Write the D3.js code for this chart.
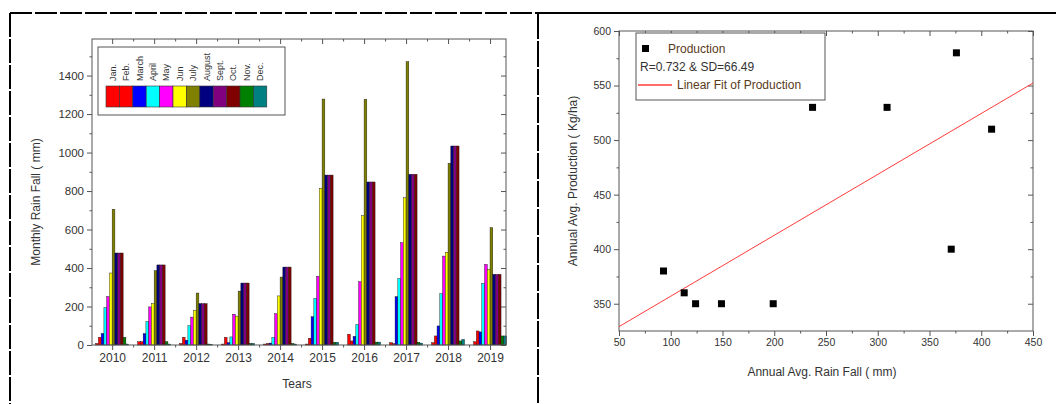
<!DOCTYPE html>
<html>
<head>
<meta charset="utf-8">
<script src="https://cdn.jsdelivr.net/npm/d3@7"></script>
<style>
  body { margin: 0; background: #fff; }
  svg { display: block; font-family: "Liberation Sans", Arial, sans-serif; }
</style>
</head>
<body>
<svg id="chart" width="1056" height="404"></svg>
<script>
// datos: lluvia mensual por año (mm)
const years = [2010, 2011, 2012, 2013, 2014, 2015, 2016, 2017, 2018, 2019];
const months = ['Jan.', 'Feb.', 'March', 'April', 'May', 'Jun', 'July', 'August', 'Sept.', 'Oct.', 'Nov.', 'Dec.'];
const rain2010 = [8, 40, 60, 195, 252, 374, 705, 478, 478, 478, 40, 5];
const rain2011 = [17, 17, 59, 122, 198, 216, 386, 416, 416, 416, 17, 5];
const rain2012 = [8, 40, 25, 100, 145, 180, 270, 215, 215, 215, 5, 3];
const rain2013 = [5, 40, 12, 42, 160, 150, 280, 322, 322, 322, 8, 8];
const rain2014 = [5, 8, 10, 40, 163, 255, 353, 405, 405, 405, 8, 5];
const rain2015 = [5, 35, 147, 242, 357, 814, 1278, 883, 883, 883, 14, 14];
const rain2016 = [56, 21, 45, 107, 329, 672, 1276, 847, 847, 847, 15, 15];
const rain2017 = [12, 7, 251, 346, 532, 765, 1472, 887, 887, 887, 14, 10];
const rain2018 = [12, 47, 99, 267, 462, 482, 944, 1034, 1034, 1034, 21, 29];
const rain2019 = [17, 73, 68, 320, 419, 393, 610, 367, 367, 367, 47, 47];
const rainByYear = [rain2010, rain2011, rain2012, rain2013, rain2014, rain2015, rain2016, rain2017, rain2018, rain2019];
const monthColors = ['#ff0000', '#ff0000', '#0000ff', '#00ffff', '#ff00ff', '#ffff00', '#808000', '#000080', '#800080', '#800000', '#008000', '#008080'];
const rainTicks = [0, 200, 400, 600, 800, 1000, 1200, 1400];

// datos: lluvia media anual vs producción
const avgRain = [93, 113, 124, 149, 199, 237, 309, 371, 376, 410];
const production = [380, 360, 350, 350, 350, 530, 530, 400, 580, 510];
const rainAxisTicks = [50, 100, 150, 200, 250, 300, 350, 400, 450];
const prodTicks = [350, 400, 450, 500, 550, 600];

const svg = d3.select('#chart');
const textColor = '#333';
const axisColor = '#555';

// marco de la figura
svg.append('line').attr('x1', 10).attr('y1', 13).attr('x2', 538).attr('y2', 13)
    .attr('stroke', '#000').attr('stroke-width', 2).attr('stroke-dasharray', '22,3');
svg.append('line').attr('x1', 538).attr('y1', 13).attr('x2', 1056).attr('y2', 13)
    .attr('stroke', '#000').attr('stroke-width', 2);
svg.append('line').attr('x1', 10).attr('y1', 13).attr('x2', 10).attr('y2', 404)
    .attr('stroke', '#000').attr('stroke-width', 2).attr('stroke-dasharray', '24,2');
svg.append('line').attr('x1', 538).attr('y1', 13).attr('x2', 538).attr('y2', 404)
    .attr('stroke', '#000').attr('stroke-width', 2).attr('stroke-dasharray', '26,2');

// helper para ejes con marcas menores
function drawAxis(g, axisFn, scale, major, minor, size, fmt, fontSize) {
    const a = g.append('g');
    a.call(axisFn(scale).tickValues(major).tickSize(size).tickSizeOuter(0).tickPadding(3).tickFormat(fmt));
    a.select('.domain').remove();
    a.selectAll('line').attr('stroke', axisColor);
    a.selectAll('text').attr('fill', textColor).style('font-size', fontSize);
    const b = g.append('g');
    b.call(axisFn(scale).tickValues(minor).tickSize(size / 2).tickSizeOuter(0).tickFormat(''));
    b.select('.domain').remove();
    b.selectAll('line').attr('stroke', axisColor);
    return a;
}

// ---------- gráfico de barras (izquierda) ----------
const x1 = d3.scaleLinear().domain([2009.52, 2019.38]).range([92, 506]);
const y1 = d3.scaleLinear().domain([0, 1590]).range([345, 39]);
const inner = d3.scaleBand().domain(d3.range(12)).range([-16.5, 16.5]);

const left = svg.append('g');
const yearMinor = years.slice(0, -1).map(d => d + 0.5);
const rainMinor = d3.range(100, 1590, 200);

const barG = left.append('g');
years.forEach((yr, i) => {
    barG.selectAll(null)
        .data(rainByYear[i])
        .enter()
        .append('rect')
        .attr('x', (d, m) => x1(yr) + inner(m))
        .attr('y', d => y1(d))
        .attr('width', inner.bandwidth())
        .attr('height', d => y1(0) - y1(d))
        .attr('fill', (d, m) => monthColors[m])
        .attr('stroke', '#111')
        .attr('stroke-width', 0.4);
});

drawAxis(left.append('g').attr('transform', `translate(0,${y1(0)})`), d3.axisBottom, x1, years, yearMinor, 5, d3.format('d'), '12px');
drawAxis(left.append('g').attr('transform', `translate(0,${y1.range()[1]})`), d3.axisBottom, x1, years, yearMinor, 5, () => '', '12px');
drawAxis(left.append('g').attr('transform', `translate(${x1.range()[0]},0)`), d3.axisLeft, y1, rainTicks, rainMinor, 5, d3.format('d'), '11.5px');
drawAxis(left.append('g').attr('transform', `translate(${x1.range()[1]},0)`), d3.axisLeft, y1, rainTicks, rainMinor, 5, () => '', '11.5px');

left.append('rect')
    .attr('x', x1.range()[0]).attr('y', y1.range()[1])
    .attr('width', x1.range()[1] - x1.range()[0]).attr('height', y1.range()[0] - y1.range()[1])
    .attr('fill', 'none').attr('stroke', axisColor);

left.append('text').attr('transform', 'translate(40,202) rotate(-90)')
    .attr('text-anchor', 'middle').attr('fill', textColor).style('font-size', '12px')
    .text('Monthly Rain Fall ( mm)');
left.append('text').attr('x', 297).attr('y', 388)
    .attr('text-anchor', 'middle').attr('fill', textColor).style('font-size', '12px')
    .text('Tears');

// leyenda de meses
const leg1 = left.append('g');
leg1.append('rect').attr('x', 98).attr('y', 47).attr('width', 187).attr('height', 68)
    .attr('fill', '#fff').attr('stroke', '#555');
const swW = 13.4;
leg1.selectAll('rect.sw')
    .data(months)
    .enter()
    .append('rect')
    .attr('class', 'sw')
    .attr('x', (d, i) => 106 + i * swW)
    .attr('y', 86)
    .attr('width', swW)
    .attr('height', 21)
    .attr('fill', (d, i) => monthColors[i])
    .attr('stroke', '#333')
    .attr('stroke-width', 0.6);
leg1.selectAll('text')
    .data(months)
    .enter()
    .append('text')
    .attr('transform', (d, i) => `translate(${106 + i * swW + swW / 2 + 3},81) rotate(-90)`)
    .attr('fill', textColor)
    .style('font-size', '9px')
    .text(d => d);

// ---------- dispersión (derecha) ----------
const x2 = d3.scaleLinear().domain([50, 450]).range([619, 1033]);
const y2 = d3.scaleLinear().domain([325, 600]).range([331, 31]);
const right = svg.append('g');

drawAxis(right.append('g').attr('transform', `translate(0,${y2.range()[0]})`), d3.axisBottom, x2, rainAxisTicks, d3.range(75, 450, 50), 5, d3.format('d'), '10.5px');
drawAxis(right.append('g').attr('transform', `translate(0,${y2.range()[1]})`), d3.axisBottom, x2, rainAxisTicks, d3.range(75, 450, 50), 5, () => '', '10.5px');
drawAxis(right.append('g').attr('transform', `translate(${x2.range()[0]},0)`), d3.axisLeft, y2, prodTicks, d3.range(375, 600, 50), 5, d3.format('d'), '10.5px');
drawAxis(right.append('g').attr('transform', `translate(${x2.range()[1]},0)`), d3.axisLeft, y2, prodTicks, d3.range(375, 600, 50), 5, () => '', '10.5px');

right.append('rect')
    .attr('x', x2.range()[0]).attr('y', y2.range()[1])
    .attr('width', x2.range()[1] - x2.range()[0]).attr('height', y2.range()[0] - y2.range()[1])
    .attr('fill', 'none').attr('stroke', axisColor);

// ajuste lineal por mínimos cuadrados
const mx = d3.mean(avgRain), my = d3.mean(production);
const slope = d3.sum(avgRain, (d, i) => (d - mx) * (production[i] - my)) / d3.sum(avgRain, d => (d - mx) * (d - mx));
const fit = v => my + slope * (v - mx);
right.append('line')
    .attr('x1', x2(50)).attr('y1', y2(fit(50)))
    .attr('x2', x2(450)).attr('y2', y2(fit(450)))
    .attr('stroke', '#ff3b3b').attr('stroke-width', 1);

right.selectAll('rect.pt')
    .data(avgRain)
    .enter()
    .append('rect')
    .attr('class', 'pt')
    .attr('x', d => x2(d) - 3.5)
    .attr('y', (d, i) => y2(production[i]) - 3.5)
    .attr('width', 7)
    .attr('height', 7)
    .attr('fill', '#000');

right.append('text').attr('x', 822).attr('y', 376)
    .attr('text-anchor', 'middle').attr('fill', textColor).style('font-size', '12px')
    .text('Annual Avg. Rain Fall ( mm)');
right.append('text').attr('transform', 'translate(577,181) rotate(-90)')
    .attr('text-anchor', 'middle').attr('fill', textColor).style('font-size', '12px')
    .text('Annual Avg. Production ( Kg/ha)');

// leyenda
const leg2 = right.append('g');
leg2.append('rect').attr('x', 636).attr('y', 33).attr('width', 189).attr('height', 67)
    .attr('fill', '#fff').attr('stroke', '#555');
leg2.append('rect').attr('x', 642).attr('y', 45).attr('width', 7).attr('height', 7).attr('fill', '#000');
leg2.append('text').attr('x', 668).attr('y', 53).attr('fill', '#5a3a1a').style('font-size', '12px').text('Production');
leg2.append('text').attr('x', 640).attr('y', 71).attr('fill', textColor).style('font-size', '12px').text('R=0.732 & SD=66.49');
leg2.append('line').attr('x1', 638).attr('y1', 85).attr('x2', 672).attr('y2', 85)
    .attr('stroke', '#ff3b3b').attr('stroke-width', 1.5);
leg2.append('text').attr('x', 677).attr('y', 89).attr('fill', '#5a3a1a').style('font-size', '12px').text('Linear Fit of Production');
</script>
</body>
</html>
